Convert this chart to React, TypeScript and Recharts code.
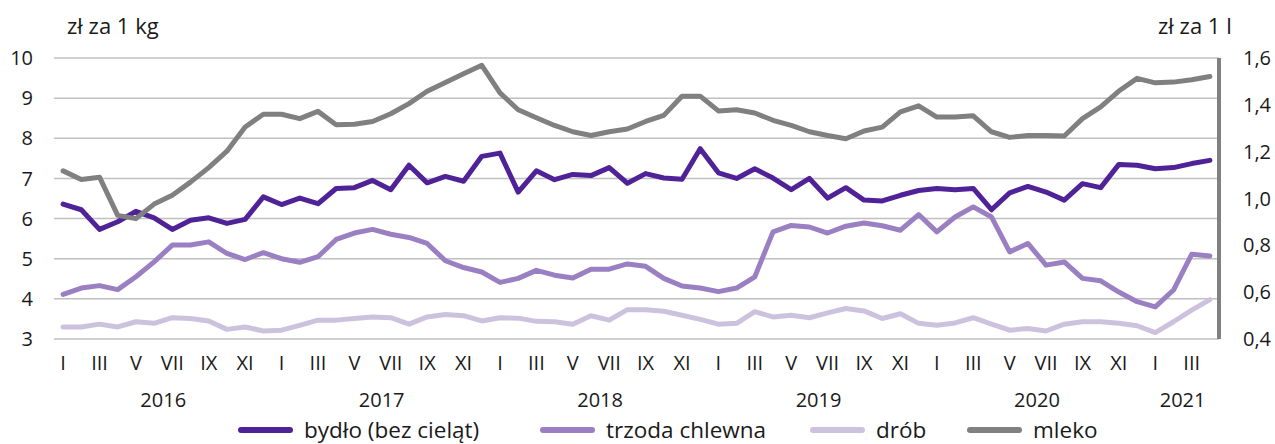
import React from "react";
import { LineChart, Line, XAxis, YAxis, CartesianGrid, Legend } from "recharts";

const years = [2016, 2017, 2018, 2019, 2020, 2021];
const months = ["I", "II", "III", "IV", "V", "VI", "VII", "VIII", "IX", "X", "XI", "XII"];
const monthsIn2021 = 4;

// zł za 1 kg
const bydlo = [
  6.36, 6.22, 5.73, 5.92, 6.18, 6.02, 5.73, 5.96, 6.02, 5.88, 5.98, 6.54,
  6.35, 6.51, 6.37, 6.75, 6.77, 6.95, 6.72, 7.33, 6.89, 7.05, 6.93, 7.55,
  7.63, 6.66, 7.19, 6.97, 7.10, 7.07, 7.27, 6.88, 7.12, 7.01, 6.98, 7.74,
  7.14, 7.00, 7.24, 7.01, 6.72, 7.00, 6.51, 6.77, 6.46, 6.44, 6.58, 6.70,
  6.75, 6.72, 6.75, 6.22, 6.64, 6.80, 6.66, 6.46, 6.87, 6.77, 7.35, 7.33,
  7.24, 7.27, 7.37, 7.45,
];
const trzoda = [
  4.11, 4.27, 4.33, 4.23, 4.55, 4.92, 5.34, 5.34, 5.42, 5.13, 4.98, 5.15,
  5.00, 4.91, 5.05, 5.48, 5.64, 5.73, 5.61, 5.53, 5.38, 4.95, 4.78, 4.67,
  4.41, 4.51, 4.71, 4.59, 4.52, 4.74, 4.74, 4.87, 4.81, 4.51, 4.32, 4.27,
  4.18, 4.27, 4.55, 5.67, 5.83, 5.79, 5.64, 5.81, 5.89, 5.82, 5.71, 6.10,
  5.67, 6.04, 6.29, 6.04, 5.17, 5.38, 4.84, 4.92, 4.51, 4.45, 4.17, 3.93,
  3.80, 4.22, 5.11, 5.07,
];
const drob = [
  3.30, 3.30, 3.37, 3.30, 3.43, 3.39, 3.53, 3.51, 3.45, 3.24, 3.30, 3.20,
  3.22, 3.34, 3.47, 3.47, 3.51, 3.55, 3.53, 3.37, 3.55, 3.61, 3.58, 3.45,
  3.53, 3.52, 3.44, 3.43, 3.37, 3.58, 3.47, 3.73, 3.73, 3.69, 3.59, 3.49,
  3.37, 3.39, 3.68, 3.55, 3.59, 3.53, 3.65, 3.76, 3.70, 3.51, 3.63, 3.39,
  3.34, 3.40, 3.53, 3.37, 3.22, 3.26, 3.20, 3.37, 3.43, 3.43, 3.39, 3.33,
  3.16, 3.43, 3.72, 3.98,
];
// zł za 1 l
const mleko = [
  1.118, 1.081, 1.091, 0.928, 0.914, 0.976, 1.014, 1.070, 1.132, 1.202, 1.305, 1.360,
  1.360, 1.341, 1.372, 1.315, 1.317, 1.329, 1.362, 1.405, 1.458, 1.495, 1.533, 1.569,
  1.451, 1.379, 1.345, 1.312, 1.285, 1.269, 1.285, 1.297, 1.329, 1.355, 1.437, 1.437,
  1.374, 1.379, 1.365, 1.334, 1.312, 1.285, 1.269, 1.255, 1.288, 1.305, 1.370, 1.396,
  1.348, 1.348, 1.353, 1.285, 1.261, 1.269, 1.269, 1.267, 1.341, 1.391, 1.459, 1.513,
  1.494, 1.497, 1.507, 1.521,
];

const leftTicks = [3, 4, 5, 6, 7, 8, 9, 10];
const rightTicks = [0.4, 0.6, 0.8, 1.0, 1.2, 1.4, 1.6];

const series = [
  { key: "bydlo", name: "bydło (bez cieląt)", color: "#4f2298", axis: "left", legendW: 302 },
  { key: "trzoda", name: "trzoda chlewna", color: "#9a80c2", axis: "left", legendW: 270 },
  { key: "drob", name: "drób", color: "#cdc2de", axis: "left", legendW: 157 },
  { key: "mleko", name: "mleko", color: "#808080", axis: "right", legendW: 140 },
];

const periods: { month: number; year: number }[] = [];
years.forEach((y) => {
  const count = y === 2021 ? monthsIn2021 : 12;
  for (let m = 0; m < count; m++) periods.push({ month: m, year: y });
});

const data = periods.map((p, i) => ({
  label: `${months[p.month]} ${p.year}`,
  month: p.month,
  year: p.year,
  bydlo: bydlo[i],
  trzoda: trzoda[i],
  drob: drob[i],
  mleko: mleko[i],
}));

const W = 1275;
const H = 444;
const LEFT_W = 54;
const RIGHT_W = 56;
const FONT = "'Open Sans', 'Noto Sans', sans-serif";
const TEXT = "#1a1a1a";
const BAND = (W - LEFT_W - RIGHT_W) / data.length;

// month in the middle of each year's block gets the year label
const yearMid = (year: number) => {
  const n = data.filter((d) => d.year === year).length;
  return Math.floor((n - 1) / 2);
};

const MonthTick = (props: any) => {
  const { x, y, index } = props;
  const d = data[index];
  if (!d) return null;
  const showMonth = d.month % 2 === 0;
  const showYear = d.month === yearMid(d.year);
  const n = data.filter((r) => r.year === d.year).length;
  const shift = n % 2 === 0 ? BAND / 2 : 0;
  return (
    <g>
      {showMonth && (
        <text x={x} y={y + 31} textAnchor="middle" fill={TEXT} fontSize={20} fontFamily={FONT}>
          {months[d.month]}
        </text>
      )}
      {showYear && (
        <text x={x + shift} y={y + 68} textAnchor="middle" fill={TEXT} fontSize={20} fontFamily={FONT}>
          {d.year}
        </text>
      )}
    </g>
  );
};

const LegendContent = () => (
  <div style={{ display: "flex", alignItems: "center", paddingLeft: 238, fontFamily: FONT, fontSize: 22.5, lineHeight: "24px", color: TEXT }}>
    {series.map((s) => (
      <div key={s.key} style={{ display: "flex", alignItems: "center", width: s.legendW, whiteSpace: "nowrap" }}>
        <span style={{ display: "inline-block", width: 55, height: 6, borderRadius: 3, background: s.color, marginRight: 11 }} />
        <span>{s.name}</span>
      </div>
    ))}
  </div>
);

export default function App() {
  return (
    <div style={{ position: "absolute", left: 0, top: 0, width: W, height: H, background: "#fff" }}>
      <div style={{ position: "absolute", left: 67, top: 12, fontFamily: FONT, fontSize: 22, lineHeight: "26px", color: TEXT }}>
        zł za 1 kg
      </div>
      <div style={{ position: "absolute", left: 1158, top: 12, fontFamily: FONT, fontSize: 22, lineHeight: "26px", color: TEXT }}>
        zł za 1 l
      </div>
      <LineChart width={W} height={H} data={data} margin={{ top: 58, right: 0, bottom: 0, left: 0 }}>
        <CartesianGrid yAxisId="left" vertical={false} stroke="#c0c0c0" strokeWidth={1.5} />
        <XAxis
          dataKey="label"
          height={105}
          interval={0}
          axisLine={false}
          tickLine={false}
          tickSize={0}
          tickMargin={0}
          padding={{ left: BAND / 2, right: BAND / 2 }}
          tick={(p: any) => <MonthTick {...p} />}
        />
        <YAxis
          yAxisId="left"
          width={LEFT_W}
          domain={[3, 10]}
          ticks={leftTicks}
          axisLine={false}
          tickLine={false}
          tickSize={0}
          tickMargin={21}
          tick={{ fill: TEXT, fontSize: 20, fontFamily: FONT }}
        />
        <YAxis
          yAxisId="right"
          orientation="right"
          width={RIGHT_W}
          domain={[0.4, 1.6]}
          ticks={rightTicks}
          axisLine={{ stroke: "#808080", strokeWidth: 4 }}
          tickLine={false}
          tickSize={0}
          tickMargin={24}
          tickFormatter={(v: number) => v.toFixed(1).replace(".", ",")}
          tick={{ fill: TEXT, fontSize: 20, fontFamily: FONT }}
        />
        {series.map((s) => (
          <Line
            key={s.key}
            yAxisId={s.axis}
            dataKey={s.key}
            name={s.name}
            stroke={s.color}
            strokeWidth={5}
            strokeLinejoin="round"
            strokeLinecap="round"
            dot={false}
            activeDot={false}
            isAnimationActive={false}
          />
        ))}
        <Legend
          layout="horizontal"
          verticalAlign="middle"
          align="center"
          content={() => <LegendContent />}
          wrapperStyle={{ top: 418, left: 0, width: W, height: 24 }}
        />
      </LineChart>
    </div>
  );
}
